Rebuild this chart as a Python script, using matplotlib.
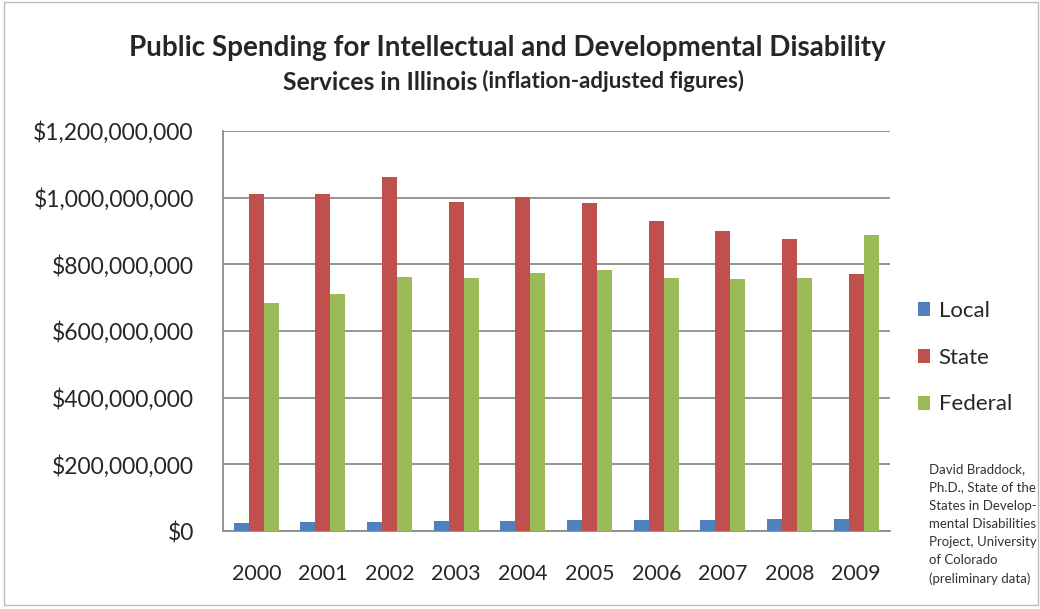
import numpy as np
import matplotlib.pyplot as plt
from matplotlib.patches import Rectangle
from matplotlib.ticker import FuncFormatter

plt.rcParams['font.family'] = ['Lato', 'DejaVu Sans']

years = ['2000', '2001', '2002', '2003', '2004', '2005', '2006', '2007', '2008', '2009']
local = [25e6, 26e6, 28e6, 30e6, 31e6, 32e6, 33e6, 34e6, 35e6, 37e6]
state = [1010e6, 1011e6, 1063e6, 988e6, 1001e6, 983e6, 930e6, 900e6, 875e6, 771e6]
federal = [683e6, 710e6, 763e6, 760e6, 773e6, 783e6, 758e6, 755e6, 760e6, 888e6]
series_names = ['Local', 'State', 'Federal']
colors = ['#4F81BD', '#C0504D', '#9BBB59']
txt_color = '#262626'

fig = plt.figure(figsize=(10.4, 6.09), dpi=100)
ax = fig.add_axes([0.2144, 0.128, 0.641, 0.657])

x = np.arange(len(years))
w = 0.225
for i, (vals, name, c) in enumerate(zip([local, state, federal], series_names, colors)):
    ax.bar(x + (i - 1) * w, vals, width=w, color=c, label=name, zorder=3)

ax.set_xlim(-0.5, len(years) - 0.5)
ax.set_ylim(0, 1.2e9)
ax.set_yticks(np.arange(0, 1.2e9 + 1, 2e8))
ax.yaxis.set_major_formatter(FuncFormatter(lambda v, p: f'${v:,.0f}'))
ax.set_xticks(x)
ax.set_xticklabels(years)
ax.tick_params(axis='y', length=0, labelsize=16.5, pad=21, labelcolor=txt_color)
ax.tick_params(axis='x', length=0, labelsize=15.4, pad=24, labelcolor=txt_color)
ax.grid(axis='y', color='#8c8c8c', linewidth=1.3, zorder=0)
for s in ['top', 'right']:
    ax.spines[s].set_visible(False)
for s in ['bottom', 'left']:
    ax.spines[s].set_color('#8c8c8c')
    ax.spines[s].set_linewidth(1.3)

leg = ax.legend(loc='center left', bbox_to_anchor=(1.012, 0.433), frameon=False,
                fontsize=16, handlelength=0.55, handleheight=0.6, labelspacing=1.2,
                handletextpad=0.4)
for t in leg.get_texts():
    t.set_color(txt_color)

# title
fig.text(0.488, 0.922, 'Public Spending for Intellectual and Developmental Disability',
         ha='center', va='center', fontsize=20, fontweight='bold', color=txt_color)
t2 = fig.text(0.272, 0.865, 'Services in Illinois', ha='left', va='center',
              fontsize=17.8, fontweight='bold', color=txt_color)
ax.annotate(' (inflation-adjusted figures)', xy=(1, 0.06), xycoords=t2,
            ha='left', va='bottom', fontsize=16, fontweight='bold', color=txt_color)

fig.text(0.893, 0.139, 'David Braddock,\nPh.D., State of the\nStates in Develop-\n'
         'mental Disabilities\nProject, University\nof Colorado\n(preliminary data)',
         ha='left', va='center', fontsize=9.5, color='#333333', linespacing=1.62)

fig.patches.append(Rectangle((0.004, 0.006), 0.994, 0.99, transform=fig.transFigure,
                             fill=False, edgecolor='#bbbbbb', linewidth=1))

fig.savefig('out.png', dpi=100)
